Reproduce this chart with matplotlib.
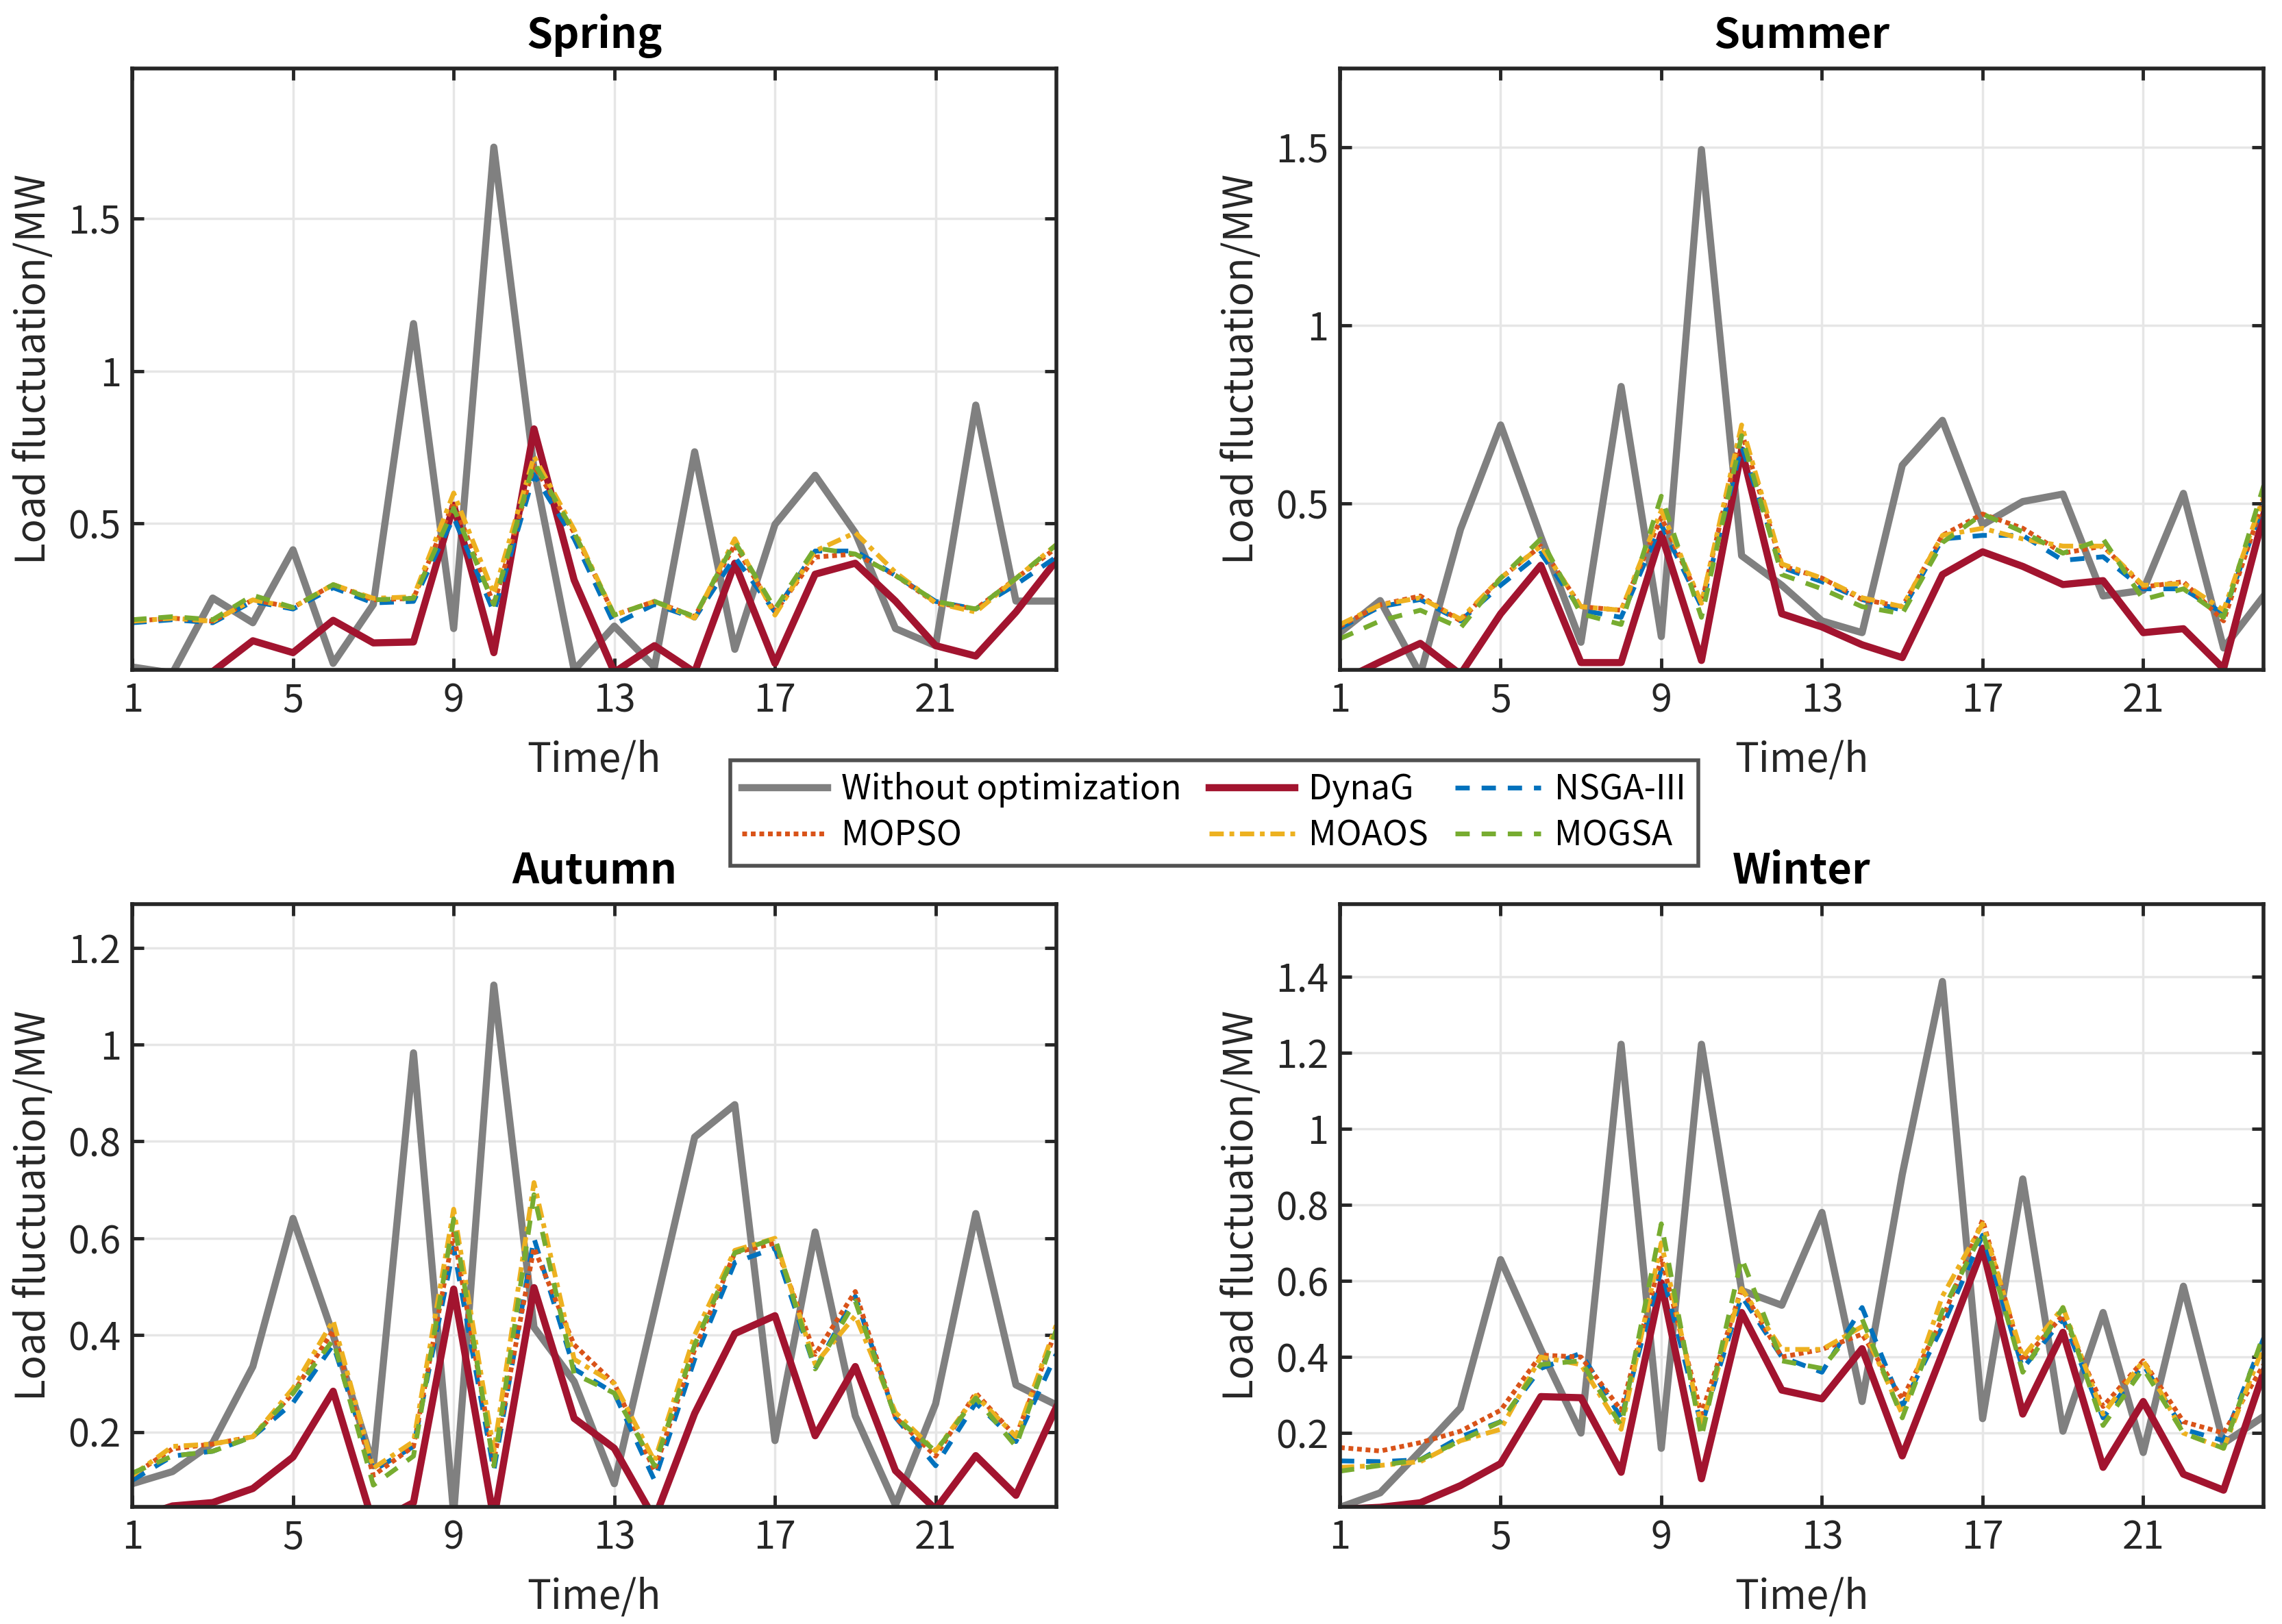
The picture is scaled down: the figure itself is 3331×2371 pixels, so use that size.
import matplotlib
matplotlib.use("Agg")
import matplotlib.pyplot as plt
from matplotlib.ticker import FormatStrFormatter

plt.rcParams["font.family"] = ["Noto Sans CJK SC", "DejaVu Sans"]

hours = list(range(1, 25))

# Spring
spring_base = [0.03, 0.01, 0.256, 0.175, 0.414, 0.042, 0.235, 1.155, 0.156, 1.733, 0.68, 0.02,
               0.164, 0.03, 0.735, 0.088, 0.497, 0.658, 0.47, 0.156, 0.10, 0.888, 0.246, 0.246]
spring_dynag = [0.0, 0.0, 0.015, 0.116, 0.077, 0.183, 0.109, 0.112, 0.56, 0.077, 0.81, 0.315,
                0.013, 0.10, 0.013, 0.37, 0.042, 0.334, 0.37, 0.246, 0.10, 0.066, 0.21, 0.378]
spring_nsga = [0.175, 0.185, 0.175, 0.245, 0.22, 0.29, 0.24, 0.245, 0.52, 0.21, 0.66, 0.45,
               0.17, 0.235, 0.19, 0.39, 0.21, 0.41, 0.41, 0.33, 0.245, 0.22, 0.30, 0.39]
spring_mopso = [0.18, 0.19, 0.18, 0.25, 0.225, 0.30, 0.25, 0.255, 0.57, 0.235, 0.69, 0.47,
                0.20, 0.245, 0.195, 0.43, 0.21, 0.39, 0.40, 0.33, 0.24, 0.22, 0.32, 0.42]
spring_moaos = [0.18, 0.19, 0.18, 0.25, 0.225, 0.30, 0.255, 0.26, 0.60, 0.27, 0.72, 0.48,
                0.20, 0.245, 0.19, 0.45, 0.20, 0.41, 0.47, 0.34, 0.24, 0.21, 0.32, 0.43]
spring_mogsa = [0.185, 0.195, 0.185, 0.265, 0.225, 0.30, 0.25, 0.255, 0.55, 0.235, 0.70, 0.47,
                0.20, 0.245, 0.195, 0.44, 0.22, 0.42, 0.40, 0.33, 0.245, 0.22, 0.32, 0.43]

# Summer
summer_base = [0.137, 0.227, 0.02, 0.427, 0.72, 0.407, 0.11, 0.828, 0.126, 1.493, 0.353, 0.27,
               0.17, 0.137, 0.607, 0.733, 0.44, 0.505, 0.526, 0.24, 0.256, 0.528, 0.094, 0.24]
summer_dynag = [0.0, 0.055, 0.107, 0.02, 0.19, 0.326, 0.053, 0.053, 0.414, 0.059, 0.65, 0.19,
                0.153, 0.103, 0.067, 0.30, 0.364, 0.323, 0.272, 0.283, 0.137, 0.148, 0.036, 0.468]
summer_nsga = [0.15, 0.21, 0.23, 0.17, 0.27, 0.36, 0.20, 0.18, 0.44, 0.21, 0.66, 0.32,
               0.28, 0.23, 0.20, 0.40, 0.41, 0.41, 0.34, 0.35, 0.26, 0.26, 0.19, 0.50]
summer_mopso = [0.155, 0.215, 0.24, 0.17, 0.29, 0.38, 0.21, 0.20, 0.46, 0.22, 0.70, 0.325,
                0.29, 0.23, 0.21, 0.41, 0.47, 0.43, 0.36, 0.38, 0.265, 0.28, 0.17, 0.51]
summer_moaos = [0.16, 0.215, 0.235, 0.175, 0.29, 0.38, 0.21, 0.20, 0.48, 0.22, 0.72, 0.33,
                0.29, 0.235, 0.21, 0.41, 0.43, 0.40, 0.38, 0.38, 0.27, 0.275, 0.20, 0.52]
summer_mogsa = [0.12, 0.17, 0.20, 0.15, 0.29, 0.40, 0.19, 0.16, 0.52, 0.18, 0.69, 0.30,
                0.26, 0.21, 0.19, 0.39, 0.47, 0.42, 0.36, 0.40, 0.23, 0.26, 0.18, 0.55]

# Autumn
autumn_base = [0.093, 0.118, 0.177, 0.335, 0.641, 0.40, 0.13, 0.983, 0.03, 1.123, 0.416, 0.304,
               0.093, 0.45, 0.809, 0.876, 0.182, 0.613, 0.233, 0.049, 0.258, 0.651, 0.297, 0.256]
autumn_dynag = [0.02, 0.047, 0.054, 0.083, 0.148, 0.284, 0.01, 0.054, 0.495, 0.02, 0.498, 0.228,
                0.166, 0.02, 0.238, 0.403, 0.44, 0.192, 0.335, 0.12, 0.04, 0.151, 0.069, 0.25]
autumn_nsga = [0.10, 0.15, 0.16, 0.19, 0.26, 0.38, 0.12, 0.17, 0.58, 0.12, 0.60, 0.33,
               0.28, 0.10, 0.35, 0.55, 0.58, 0.33, 0.48, 0.23, 0.13, 0.26, 0.18, 0.36]
autumn_mopso = [0.11, 0.165, 0.175, 0.19, 0.28, 0.41, 0.11, 0.17, 0.61, 0.14, 0.58, 0.38,
                0.30, 0.12, 0.37, 0.57, 0.59, 0.36, 0.49, 0.23, 0.15, 0.28, 0.19, 0.41]
autumn_moaos = [0.11, 0.17, 0.175, 0.19, 0.29, 0.43, 0.125, 0.18, 0.66, 0.16, 0.715, 0.35,
                0.30, 0.14, 0.40, 0.575, 0.60, 0.34, 0.44, 0.24, 0.16, 0.275, 0.19, 0.42]
autumn_mogsa = [0.115, 0.15, 0.16, 0.19, 0.28, 0.39, 0.09, 0.15, 0.64, 0.13, 0.69, 0.32,
                0.28, 0.13, 0.38, 0.57, 0.60, 0.33, 0.47, 0.23, 0.16, 0.27, 0.17, 0.41]

# Winter
winter_base = [0.005, 0.043, 0.153, 0.266, 0.656, 0.42, 0.20, 1.222, 0.16, 1.222, 0.575, 0.536,
               0.78, 0.283, 0.88, 1.387, 0.238, 0.868, 0.205, 0.517, 0.149, 0.586, 0.173, 0.244]
winter_dynag = [0.0, 0.005, 0.017, 0.062, 0.12, 0.296, 0.293, 0.097, 0.595, 0.08, 0.517, 0.313,
                0.29, 0.422, 0.14, 0.41, 0.686, 0.25, 0.465, 0.11, 0.283, 0.092, 0.05, 0.361]
winter_nsga = [0.127, 0.125, 0.13, 0.19, 0.23, 0.37, 0.41, 0.24, 0.63, 0.22, 0.56, 0.40,
               0.36, 0.53, 0.27, 0.48, 0.72, 0.37, 0.50, 0.24, 0.38, 0.21, 0.18, 0.45]
winter_mopso = [0.162, 0.153, 0.175, 0.205, 0.26, 0.405, 0.40, 0.26, 0.66, 0.25, 0.58, 0.40,
                0.42, 0.46, 0.29, 0.50, 0.76, 0.39, 0.51, 0.27, 0.39, 0.23, 0.20, 0.38]
winter_moaos = [0.11, 0.115, 0.125, 0.18, 0.21, 0.40, 0.38, 0.21, 0.70, 0.22, 0.58, 0.42,
                0.42, 0.48, 0.25, 0.56, 0.75, 0.40, 0.53, 0.25, 0.39, 0.20, 0.16, 0.43]
winter_mogsa = [0.10, 0.115, 0.13, 0.18, 0.23, 0.38, 0.39, 0.22, 0.75, 0.19, 0.66, 0.39,
                0.37, 0.50, 0.24, 0.52, 0.73, 0.36, 0.53, 0.22, 0.37, 0.20, 0.16, 0.46]

panels = [
    ("Spring", [spring_base, spring_dynag, spring_nsga, spring_mopso, spring_moaos, spring_mogsa],
     (0.02, 1.99), [0.5, 1, 1.5], [0.0580, 0.5874, 0.4048, 0.3703]),
    ("Summer", [summer_base, summer_dynag, summer_nsga, summer_mopso, summer_moaos, summer_mogsa],
     (0.032, 1.72), [0.5, 1, 1.5], [0.5872, 0.5874, 0.4048, 0.3703]),
    ("Autumn", [autumn_base, autumn_dynag, autumn_nsga, autumn_mopso, autumn_moaos, autumn_mogsa],
     (0.045, 1.29), [0.2, 0.4, 0.6, 0.8, 1, 1.2], [0.0580, 0.0721, 0.4048, 0.3711]),
    ("Winter", [winter_base, winter_dynag, winter_nsga, winter_mopso, winter_moaos, winter_mogsa],
     (0.006, 1.59), [0.2, 0.4, 0.6, 0.8, 1, 1.2, 1.4], [0.5872, 0.0721, 0.4048, 0.3711]),
]

names = ["Without optimization", "DynaG", "NSGA-III", "MOPSO", "MOAOS", "MOGSA"]
colors = ["#808080", "#A2142F", "#0072BD", "#D95319", "#EDB120", "#77AC30"]
styles = ["-", "-", (0, (3, 2.5)), (0, (1, 0.8)), (0, (3, 1.2, 1, 1.2)), (0, (3, 2.5))]
widths = [7.5, 7.5, 5, 5, 5, 5]

fig = plt.figure(figsize=(33.31, 23.71), dpi=100)

for title, series, ylim, yticks, rect in panels:
    ax = fig.add_axes(rect)
    handles = []
    for vals, name, c, ls, lw in zip(series, names, colors, styles, widths):
        h, = ax.plot(hours, vals, color=c, linestyle=ls, linewidth=lw, label=name)
        handles.append(h)
    ax.set_xlim(1, 24)
    ax.set_ylim(*ylim)
    ax.set_xticks([1, 5, 9, 13, 17, 21])
    ax.set_yticks(yticks)
    ax.yaxis.set_major_formatter(FormatStrFormatter("%g"))
    ax.grid(True, color="#e6e6e6", linewidth=2.5)
    ax.set_axisbelow(True)
    ax.tick_params(direction="in", length=12, width=3.5, top=True, right=True,
                   labelsize=40, colors="#262626", pad=12)
    for sp in ax.spines.values():
        sp.set_linewidth(4)
        sp.set_color("#262626")
    ax.set_title(title, fontsize=44, fontweight="bold", pad=22)
    ax.set_xlabel("Time/h", fontsize=42, color="#262626", labelpad=20)
    ax.set_ylabel("Load fluctuation/MW", fontsize=42, color="#262626", labelpad=14)

order = [0, 3, 1, 4, 2, 5]
leg = fig.legend([handles[i] for i in order], [names[i] for i in order],
                 loc="center", bbox_to_anchor=(0.532, 0.4995), ncol=3, fontsize=36,
                 frameon=True, fancybox=False, edgecolor="#262626", handlelength=2.5,
                 columnspacing=0.8, handletextpad=0.4, labelspacing=0.3, borderpad=0.35)
leg.get_frame().set_linewidth(4)

fig.savefig("out.png", dpi=100)
